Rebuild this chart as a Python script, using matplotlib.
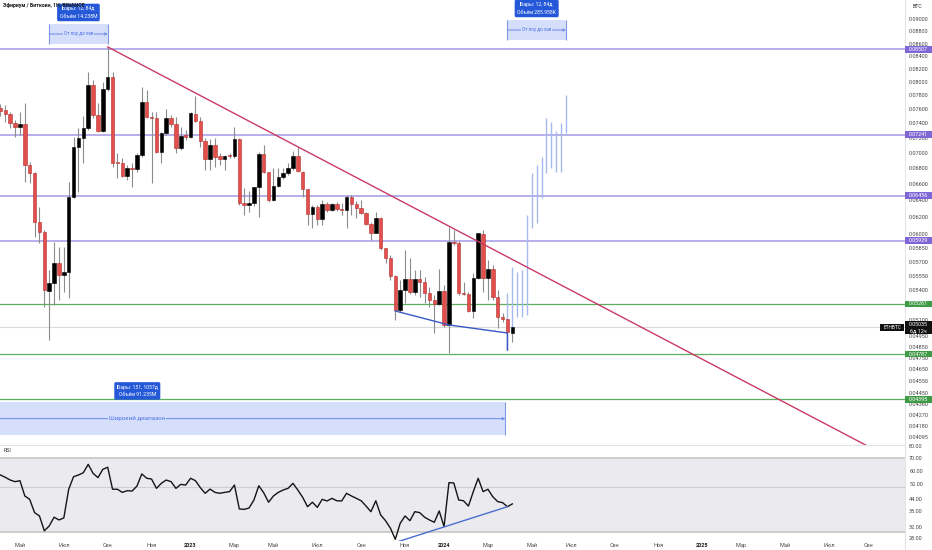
import numpy as np
import pandas as pd
import matplotlib
matplotlib.use("Agg")
import matplotlib.pyplot as plt
import matplotlib.dates as mdates
from matplotlib.patches import Rectangle
from matplotlib.lines import Line2D
from matplotlib.ticker import NullLocator, NullFormatter

plt.rcParams['font.family'] = ['Roboto', 'DejaVu Sans']

# weekly ETH/BTC candles, first bar on 2022-04-04
first_bar = "2022-04-04"
opens = [.07614, .07590, .07529, .07399, .07343, .07389, .06838, .06739, .06145, .06030,
         .05395, .05477, .05687, .05557, .05592, .06434, .07070, .07191, .07329, .07952,
         .07515, .07296, .07888, .08078, .06881, .06868, .06697, .06803, .06782, .06969,
         .07706, .07490, .07467, .07012, .07260, .07467, .07389, .07057, .07237, .07214,
         .07529, .07435, .07160, .06915, .07102, .06955, .06915, .06962, .06955, .07182,
         .06369, .06342, .06362, .06556, .06982, .06745, .06402, .06572, .06681, .06739,
         .06795, .06959, .06752, .06531, .06234, .06321, .06171, .06354, .06282, .06354,
         .06290, .06282, .06434, .06354, .06302, .06242, .06115, .06018, .06190, .05843,
         .05734, .05546, .05202, .05402, .05512, .05385, .05512, .05487, .05368, .05301,
         .05261, .05395, .05057, .05917, .05899, .05368, .05360, .05192, .05523, .06000,
         .05530, .05616, .05328, .05136, .05112, .04978]
highs = [.07673, .07658, .07562, .07445, .07562, .07687, .06881, .06748, .06321, .06045,
         .05610, .05917, .05861, .05861, .06627, .07214, .07329, .07500, .08155, .08028,
         .07683, .08002, .08545, .08155, .06991, .06925, .06838, .06860, .06991, .07927,
         .07878, .07562, .07562, .07282, .07595, .07515, .07490, .07351, .07306, .07562,
         .07789, .07487, .07191, .07182, .07191, .06991, .06969, .06991, .07351, .07191,
         .06547, .06515, .06564, .07012, .07102, .06752, .06795, .06795, .06795, .06860,
         .07026, .07079, .06761, .06540, .06342, .06342, .06402, .06381, .06369, .06378,
         .06366, .06463, .06463, .06394, .06402, .06262, .06145, .06262, .06202, .05846,
         .05770, .05557, .05505, .05825, .05734, .05610, .05610, .05540, .05430, .05351,
         .05616, .05453, .06087, .06049, .05920, .05487, .05385, .05578, .06018, .06049,
         .05716, .05663, .05402, .05176, .05112, .05057]
lows = [.07500, .07417, .07333, .07214, .07237, .06627, .06614, .05973, .05899, .05234,
        .04916, .05251, .05301, .05385, .05317, .06420, .06503, .06860, .07306, .07467,
        .07282, .07282, .07870, .06816, .06668, .06681, .06648, .06564, .06752, .06946,
        .07467, .06606, .06991, .06860, .07237, .07351, .06991, .07035, .07169, .07200,
        .07421, .07079, .06774, .06774, .06816, .06838, .06774, .06930, .06930, .06342,
        .06223, .06262, .06330, .06202, .06732, .06381, .06390, .06560, .06657, .06710,
        .06774, .06752, .06442, .06107, .06068, .06107, .06107, .06262, .06274, .06270,
        .06223, .06068, .06223, .06183, .06230, .06107, .05936, .06011, .05825, .05680,
        .05505, .05105, .05185, .05268, .05358, .05350, .05334, .05268, .05230, .04978,
        .05251, .05040, .04794, .05880, .05351, .05351, .05185, .05121, .05515, .05385,
        .05301, .05301, .05028, .05086, .04824, .04900]
closes = [.07572, .07529, .07399, .07343, .07389, .06838, .06739, .06145, .06030, .05402,
          .05477, .05687, .05557, .05592, .06434, .07070, .07191, .07329, .07952, .07515,
          .07296, .07888, .08078, .06868, .06860, .06697, .06795, .06782, .06969, .07706,
          .07490, .07467, .07012, .07260, .07467, .07389, .07057, .07223, .07214, .07539,
          .07435, .07160, .06915, .07102, .06946, .06912, .06959, .06955, .07182, .06362,
          .06342, .06362, .06556, .06982, .06745, .06402, .06572, .06681, .06739, .06795,
          .06959, .06761, .06531, .06234, .06321, .06171, .06354, .06282, .06354, .06290,
          .06282, .06434, .06354, .06302, .06242, .06115, .06018, .06190, .05843, .05734,
          .05546, .05202, .05402, .05512, .05385, .05512, .05487, .05368, .05301, .05261,
          .05395, .05057, .05917, .05899, .05368, .05360, .05192, .05523, .06011, .05530,
          .05616, .05328, .05136, .05112, .04993, .05035]
rsi = [57.5, 56.0, 54.3, 53.3, 53.9, 45.3, 43.6, 37.5, 36.1, 30.5,
       32.2, 35.6, 34.5, 35.3, 48.9, 56.4, 57.5, 59.0, 64.9, 58.6,
       55.8, 61.3, 62.8, 48.9, 48.9, 47.2, 48.1, 47.9, 50.7, 58.2,
       55.4, 54.9, 49.4, 52.3, 54.3, 53.3, 49.4, 51.7, 51.3, 55.4,
       53.9, 49.8, 46.7, 49.0, 47.2, 46.7, 47.2, 47.6, 51.3, 39.1,
       38.9, 39.5, 43.3, 50.9, 47.0, 42.2, 45.3, 47.2, 48.5, 49.4,
       52.3, 48.5, 44.6, 40.1, 42.2, 39.8, 43.6, 42.8, 44.1, 42.9,
       42.8, 46.7, 45.3, 44.1, 42.9, 40.4, 37.9, 42.9, 36.5, 34.2,
       31.4, 27.7, 33.2, 36.1, 34.2, 37.9, 37.5, 35.6, 34.5, 33.6,
       38.2, 32.0, 52.7, 52.5, 43.3, 42.9, 40.4, 47.6, 55.4, 47.6,
       48.9, 44.9, 42.5, 42.0, 40.1, 41.4]

# projected bars (bars pattern)
ghost_first = "2024-04-01"
ghost_high = [.05371, .05644, .05592, .05610, .06223, .06732, .06838, .06946, .07476, .07421, .07292, .07399, .07803]
ghost_low = [.04824, .04978, .05136, .05136, .05153, .06068, .06126, .06422, .06732, .06795, .06752, .06752, .07260]

levels_purple = [0.08507, 0.07241, 0.06456, 0.05929]
levels_green = [0.05261, 0.04787, 0.04395]
last_price = 0.05035

trend_dates = ["2022-09-05", "2025-08-29"]
trend_prices = [0.08545, 0.0403]
wedge_dates = ["2023-10-23", "2024-01-08", "2024-04-01", "2024-04-01"]
wedge_prices = [0.05192, 0.05057, 0.04981, 0.04824]
rsi_trend_dates = ["2023-10-23", "2024-04-01"]
rsi_trend_vals = [26.7, 40.1]

# date/price range tools: (start, end, low, high, caption, stats)
ranges = [
    ("2022-06-13", "2022-09-05", 0.08592, 0.08923, "От лоу до хая", "Бары: 12, 84д\nОбъём 14.238M", 0.09119, 3.3),
    ("2024-04-01", "2024-06-24", 0.08658, 0.08990, "От лоу до хая", "Бары: 12, 84д\nОбъём 285.958K", 0.09188, 3.3),
    ("2021-05-07", "2024-03-29", 0.04109, 0.04370, "Широкий диапазон", "Бары: 151, 1057д\nОбъём 91.235M", 0.04465, 4.4),
]

price_ticks = [0.09, 0.088, 0.086, 0.084, 0.082, 0.08, 0.078, 0.076, 0.074, 0.072, 0.07, 0.068,
               0.066, 0.064, 0.062, 0.06, 0.0585, 0.057, 0.0555, 0.054, 0.0525, 0.051, 0.0495,
               0.0485, 0.0475, 0.0465, 0.0455, 0.0445, 0.0436, 0.0427, 0.0418, 0.04095]
rsi_ticks = [80, 70, 60, 52, 44, 38, 32, 28]
month_starts = pd.date_range("2022-05-01", "2025-09-01", freq="2MS")
month_labels = ["Май", "Июл", "Сен", "Ноя", "2023", "Мар", "Май", "Июл", "Сен", "Ноя", "2024",
                "Мар", "Май", "Июл", "Сен", "Ноя", "2025", "Мар", "Май", "Июл", "Сен"]

W, H = 932, 550
fig = plt.figure(figsize=(W / 100, H / 100), dpi=100)
ax = fig.add_axes([0, 105 / H, 905 / W, 445 / H])
rax = fig.add_axes([0, 9 / H, 905 / W, 96 / H], sharex=ax)

d0 = mdates.date2num(pd.Timestamp(first_bar))
xl = (d0 - 0.646, d0 - 0.646 + 905 / 0.6964)

x = mdates.date2num(pd.date_range(first_bar, periods=len(opens), freq="7D"))
o, hh, ll, c = map(np.array, (opens, highs, lows, closes))
up = c >= o

ax.set_yscale("log")
ax.set_ylim(0.04032, 0.09336)
ax.set_xlim(*xl)

for p in levels_purple:
    ax.axhline(p, color="#a398e6", lw=1.1, zorder=1)
for p in levels_green:
    ax.axhline(p, color="#5cae60", lw=0.9, zorder=1)
ax.axhline(last_price, color="#d9d9d9", lw=0.8, zorder=0.5)

# range boxes
for start, end, lo, hi, caption, stats, ylab, fs in ranges:
    xa, xb = mdates.date2num(pd.Timestamp(start)), mdates.date2num(pd.Timestamp(end))
    ym = np.sqrt(lo * hi)
    ax.fill_between([xa, xb], lo, hi, color="#d5dffc", lw=0, zorder=1.5)
    ax.vlines([xa, xb], lo, hi, color="#7f98e6", lw=0.8, zorder=1.6)
    ax.annotate("", xy=(xb, ym), xytext=(xa, ym), annotation_clip=False,
                arrowprops=dict(arrowstyle="->", color="#6b88e6", lw=0.7,
                                shrinkA=0, shrinkB=0, mutation_scale=4), zorder=1.7)
    ax.text((xa + xb) / 2, ym, caption, fontsize=fs, color="#4d6fe2", ha="center", va="center",
            bbox=dict(fc="#d5dffc", ec="none", pad=0.6), zorder=1.8)
    ax.text((xa + xb) / 2, ylab, stats, fontsize=3.7, color="white", ha="center", va="center",
            linespacing=1.6, zorder=8,
            bbox=dict(boxstyle="round,pad=0.5,rounding_size=0.3", fc="#2458d8", ec="none"))

# candles
ax.vlines(x, ll, hh, color="#8c8c8c", lw=0.8, zorder=2)
bottoms = np.minimum(o, c)
heights = np.maximum(np.abs(c - o), bottoms * 0.0015)
ax.bar(x, heights, bottom=bottoms, width=5.0,
       color=np.where(up, "#000000", "#e2504d"),
       edgecolor=np.where(up, "#000000", "#b3302d"), linewidth=0.4, zorder=3)

gx = mdates.date2num(pd.date_range(ghost_first, periods=len(ghost_high), freq="7D"))
ax.vlines(gx, ghost_low, ghost_high, color="#a8b9f0", lw=1.0, zorder=2.5)

ax.plot(mdates.date2num(pd.to_datetime(trend_dates)), trend_prices, color="#c93a64", lw=1.0, zorder=4)
ax.plot(mdates.date2num(pd.to_datetime(wedge_dates)), wedge_prices, color="#3b59c6", lw=1.0, zorder=5)

ax.yaxis.tick_right()
ax.set_yticks(price_ticks, [f"{t:.5f}" for t in price_ticks])
ax.yaxis.set_minor_locator(NullLocator())
ax.yaxis.set_minor_formatter(NullFormatter())
ax.tick_params(axis="y", length=0, pad=3, labelsize=4, labelcolor="#444444")
ax.tick_params(axis="x", length=0, labelbottom=False)
for s in ax.spines.values():
    s.set_visible(False)

# RSI pane
rax.set_yscale("log")
rax.set_ylim(27.16, 80.85)
rax.axhspan(30, 70, color="#ebebef", lw=0, zorder=0)
rax.axhline(70, color="#c6c6c6", lw=1.2, zorder=1)
rax.axhline(30, color="#c6c6c6", lw=1.2, zorder=1)
rax.axhline(50, color="#cfcfcf", lw=0.8, zorder=1)
rax.plot(x, rsi, color="#151515", lw=1.0, zorder=3)
rax.plot(mdates.date2num(pd.to_datetime(rsi_trend_dates)), rsi_trend_vals, color="#4a6dd0", lw=1.0, zorder=4)
rax.yaxis.tick_right()
rax.set_yticks(rsi_ticks, [f"{t:.2f}" for t in rsi_ticks])
rax.yaxis.set_minor_locator(NullLocator())
rax.yaxis.set_minor_formatter(NullFormatter())
rax.tick_params(axis="y", length=0, pad=3, labelsize=4, labelcolor="#444444")
tick_pos = [d + pd.Timedelta(days=(7 - d.weekday()) % 7) for d in month_starts]
rax.set_xticks(mdates.date2num(tick_pos), month_labels)
rax.tick_params(axis="x", length=0, pad=1.5, labelsize=4, labelcolor="#444444")
for lab in rax.get_xticklabels():
    if lab.get_text().isdigit():
        lab.set_fontweight("bold")
        lab.set_color("#222222")
for s in rax.spines.values():
    s.set_visible(False)
rax.set_xlim(*xl)

fig.add_artist(Line2D([905 / W, 905 / W], [0, 1], color="#e2e4ea", lw=0.8))
fig.add_artist(Line2D([0, 905 / W], [105 / H, 105 / H], color="#e2e4ea", lw=0.8))
fig.text(3 / W, 1 - 6 / H, "Эфириум / Биткоин, 1Н, BINANCE", fontsize=3.8, fontweight="bold",
         color="#1a1a1a", va="center", ha="left")
fig.text(913 / W, 1 - 6 / H, "BTC", fontsize=3.8, color="#333333", va="center", ha="left")
fig.text(4 / W, 1 - 451 / H, "RSI", fontsize=3.8, color="#333333", va="center", ha="left")


def tag(price, text, fc, x_px=905, w_px=27, h_px=6.5, fs=3.9):
    py = ax.transData.transform((xl[0], price))[1]
    fig.add_artist(Rectangle((x_px / W, (py - h_px / 2) / H), w_px / W, h_px / H,
                             transform=fig.transFigure, fc=fc, ec="none", zorder=10))
    fig.text((x_px + w_px / 2) / W, py / H, text, fontsize=fs, color="white",
             ha="center", va="center", zorder=11, linespacing=1.3)


for p in levels_purple:
    tag(p, f"{p:.5f}", "#7e66d6")
for p in levels_green:
    tag(p, f"{p:.5f}", "#3f9a45")
tag(last_price, f"{last_price:.5f}\n6д 12ч", "#111111", h_px=13)
tag(last_price, "ETHBTC", "#111111", x_px=880, w_px=24, fs=3.4)

fig.savefig("out.png", dpi=100)
